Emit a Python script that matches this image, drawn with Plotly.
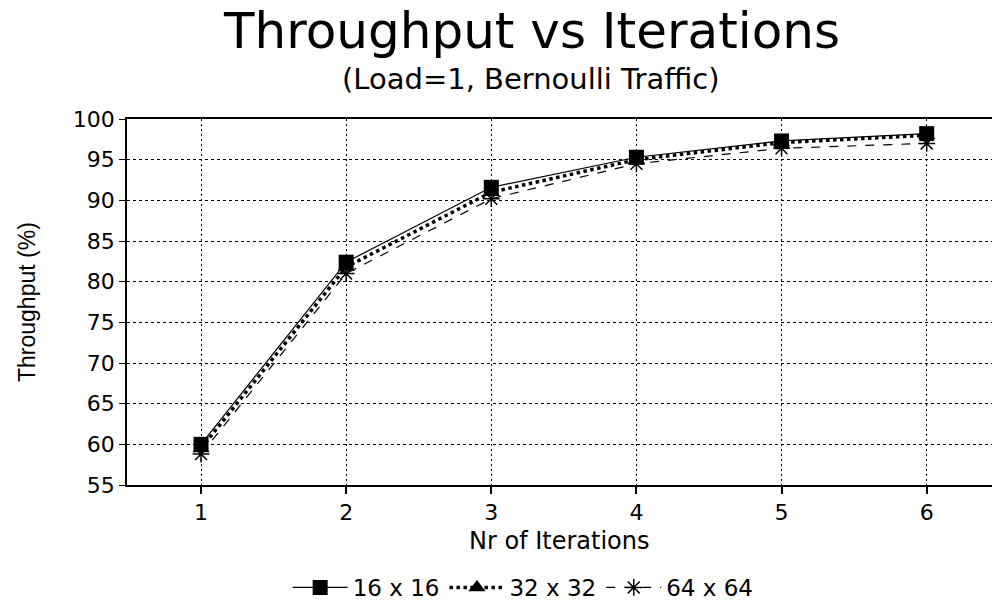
import plotly.graph_objects as go

# Iteration counts and measured throughput (%) per switch size
iterations = [1, 2, 3, 4, 5, 6]
tp_16 = [60.0, 82.4, 91.6, 95.3, 97.3, 98.2]
tp_32 = [59.5, 81.8, 91.0, 95.0, 97.1, 98.0]
tp_64 = [58.8, 81.0, 90.2, 94.5, 96.4, 97.0]
series_names = ["16 x 16", "32 x 32", "64 x 64"]
y_ticks = [55, 60, 65, 70, 75, 80, 85, 90, 95, 100]

FONT = "DejaVu Sans, Verdana, sans-serif"
NARROW = "Liberation Sans Narrow, Arial Narrow, Liberation Sans, Arial, sans-serif"

fig = go.Figure()
fig.add_trace(go.Scatter(
    x=iterations, y=tp_16, name=series_names[0], mode="lines+markers",
    line=dict(color="black", width=1.2, dash="solid"),
    marker=dict(symbol="square", size=15, color="black"),
))
fig.add_trace(go.Scatter(
    x=iterations, y=tp_32, name=series_names[1], mode="lines+markers",
    line=dict(color="black", width=3.5, dash="dot"),
    marker=dict(symbol="triangle-up", size=15, color="black"),
))
fig.add_trace(go.Scatter(
    x=iterations, y=tp_64, name=series_names[2], mode="lines+markers",
    line=dict(color="black", width=1.2, dash="dash"),
    marker=dict(symbol="asterisk-open", size=14, color="black",
                line=dict(color="black", width=1.5)),
))

fig.update_layout(
    width=992, height=609,
    paper_bgcolor="white", plot_bgcolor="white",
    margin=dict(l=127, r=0, t=119, b=124),
    font=dict(family=FONT, color="black", size=22),
    showlegend=True,
    legend=dict(orientation="h", x=0.458, xanchor="center", xref="paper",
                y=-0.28, yanchor="middle", font=dict(size=23),
                itemwidth=55, bgcolor="rgba(0,0,0,0)"),
    xaxis=dict(
        range=[0.49, 6.45], tickvals=iterations, ticktext=[str(v) for v in iterations],
        showline=True, linecolor="black", linewidth=1.5, mirror=True,
        ticks="outside", ticklen=7, tickcolor="black", tickwidth=1.5,
        showgrid=True, gridcolor="black", gridwidth=1.2, griddash="2px,3px",
        zeroline=False, tickfont=dict(size=22),
    ),
    yaxis=dict(
        range=[55, 100], tickvals=y_ticks,
        showline=True, linecolor="black", linewidth=1.5,
        ticks="outside", ticklen=6, tickcolor="black", tickwidth=1.2,
        showgrid=True, gridcolor="black", gridwidth=1.2, griddash="3px,3px",
        zeroline=False, tickfont=dict(size=22),
    ),
    annotations=[
        dict(text="Throughput vs Iterations", xref="paper", yref="paper",
             x=0.5, y=1, xshift=-28, yshift=88, showarrow=False,
             font=dict(size=50, family=FONT), xanchor="center", yanchor="middle"),
        dict(text="(Load=1, Bernoulli Traffic)", xref="paper", yref="paper",
             x=0.5, y=1, xshift=-29, yshift=40, showarrow=False,
             font=dict(size=29, family=FONT), xanchor="center", yanchor="middle"),
        dict(text="Nr of Iterations", xref="paper", yref="paper",
             x=0.5, y=0, yshift=-56, showarrow=False,
             font=dict(size=24, family=FONT), xanchor="center", yanchor="middle"),
        dict(text="Throughput (%)", xref="paper", yref="paper",
             x=0, y=0.5, xshift=-100, showarrow=False, textangle=-90,
             font=dict(size=23, family=NARROW),
             xanchor="center", yanchor="middle"),
    ],
)

fig.write_html("out.html")
